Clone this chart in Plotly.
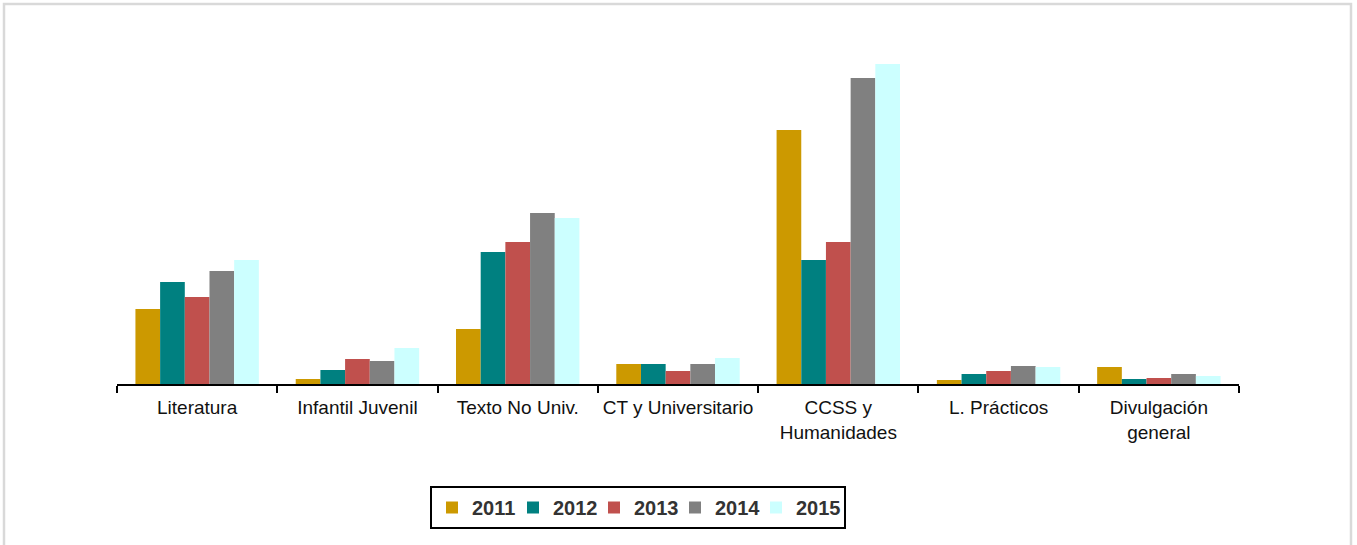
import plotly.graph_objects as go

categories = ["Literatura", "Infantil Juvenil", "Texto No Univ.", "CT y Universitario",
              "CCSS y<br>Humanidades", "L. Prácticos", "Divulgación<br>general"]
years = ["2011", "2012", "2013", "2014", "2015"]
v2011 = [75, 5, 55, 20, 254, 4, 17]
v2012 = [102, 14, 132, 20, 124, 10, 5]
v2013 = [87, 25, 142, 13, 142, 13, 6]
v2014 = [113, 23, 171, 20, 306, 18, 10]
v2015 = [124, 36, 166, 26, 320, 17, 8]
colors = ["#CC9900", "#008080", "#C0504D", "#808080", "#CCFFFF"]

series = [v2011, v2012, v2013, v2014, v2015]

fig = go.Figure()
for i, (name, vals, col) in enumerate(zip(years, series, colors)):
    # the last legend entry gets extra room so its label stays inside the box
    fig.add_trace(go.Bar(x=categories, y=vals, name=name,
                         marker=dict(color=col, line=dict(width=0)),
                         legendwidth=43 if i == len(years) - 1 else None))

W, H = 1357, 545
ml, mr, mt, mb = 117, 118, 54, 161
pw, ph = W - ml - mr, H - mt - mb

def px_x(p):
    return (p - ml) / pw

def px_y(p):
    return (H - mb - p) / ph

fig.update_layout(
    width=W, height=H,
    margin=dict(l=ml, r=mr, t=mt, b=mb),
    paper_bgcolor="white", plot_bgcolor="white",
    barmode="group", bargap=0.23, bargroupgap=0,
    font=dict(family="Liberation Sans, Arial, sans-serif", color="#111111"),
    xaxis=dict(showline=True, linecolor="black", linewidth=2, ticks="outside",
               tickson="boundaries", ticklen=7, tickwidth=2, tickcolor="black",
               tickangle=0, ticklabelstandoff=5, tickfont=dict(size=19, color="#111111"),
               showgrid=False, fixedrange=True),
    yaxis=dict(visible=False, range=[0, 330], showgrid=False, fixedrange=True),
    legend=dict(orientation="h", x=px_x(638), xanchor="center", y=px_y(486), yanchor="top",
                bordercolor="black", borderwidth=2, bgcolor="white",
                entrywidth=36, entrywidthmode="pixels",
                font=dict(size=20, color="#333333", family="Liberation Sans, Arial, sans-serif", weight="bold"),
                traceorder="normal"),
    shapes=[dict(type="rect", xref="paper", yref="paper",
                 x0=px_x(4), x1=px_x(1351), y0=px_y(560), y1=px_y(4),
                 line=dict(color="#D9D9D9", width=2.5), fillcolor="rgba(0,0,0,0)", layer="below")],
)

fig.write_html("out.html")
